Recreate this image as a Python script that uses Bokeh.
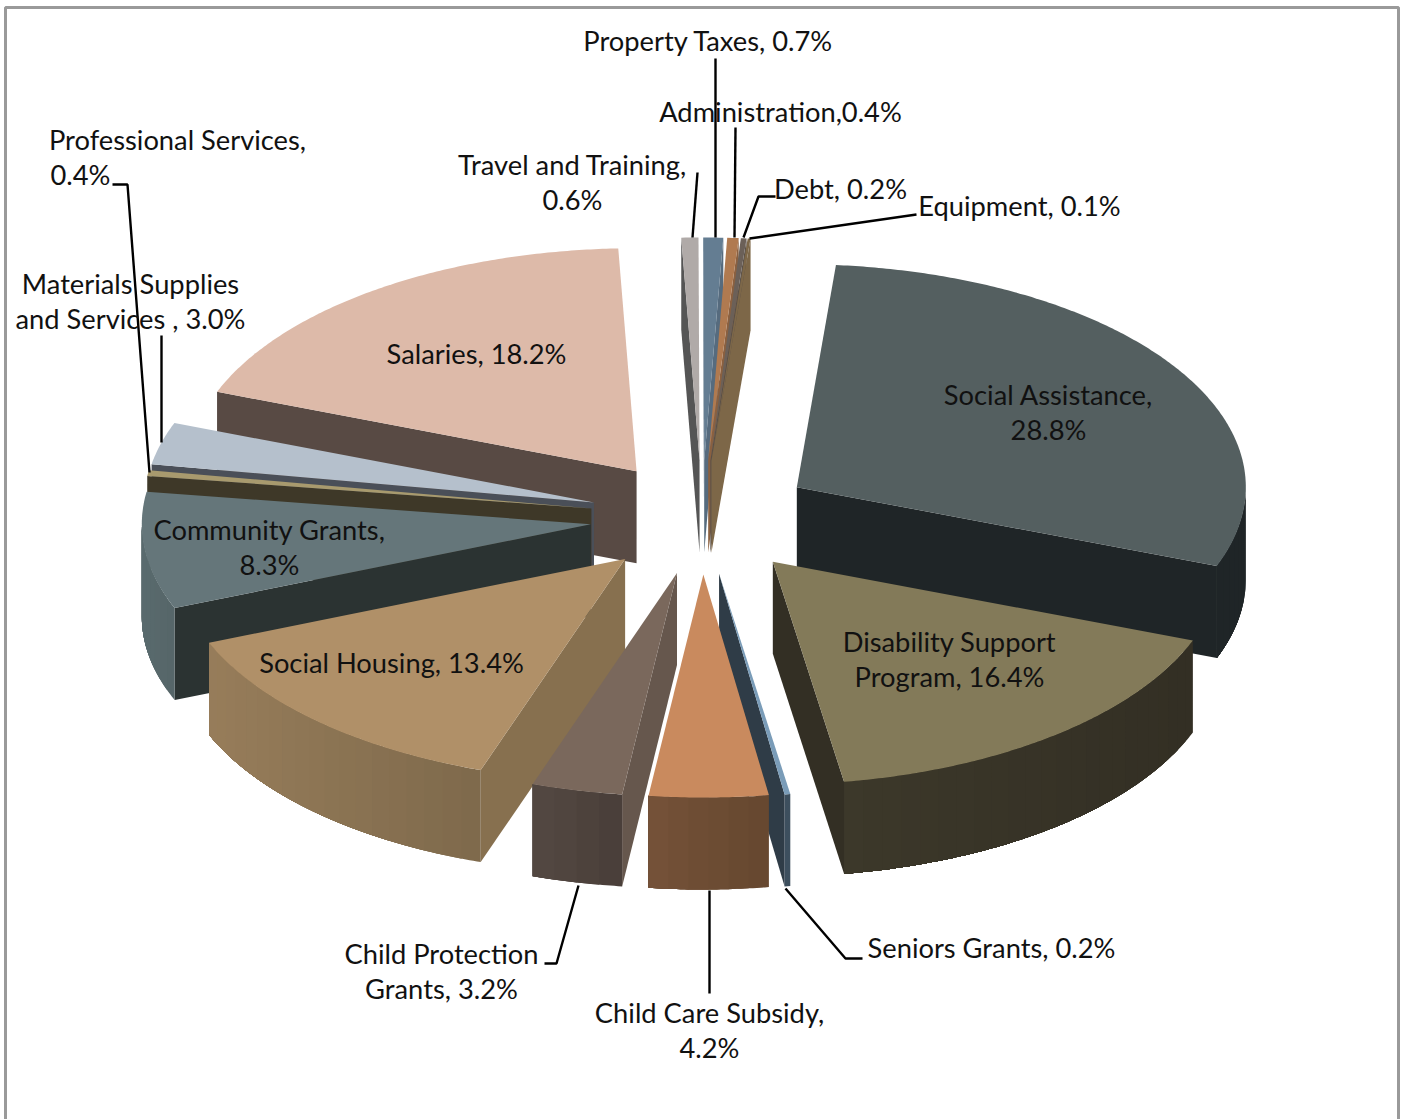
import math
from bokeh.plotting import figure
from bokeh.models import Range1d
from bokeh.core.properties import value
from bokeh.embed import file_html
from bokeh.resources import INLINE

# ---- data (clockwise from the first slice)
categories = ["Social Assistance", "Disability Support Program", "Seniors Grants",
              "Child Care Subsidy", "Child Protection Grants", "Social Housing",
              "Community Grants", "Professional Services", "Materials Supplies and Services",
              "Salaries", "Travel and Training", "Property Taxes", "Administration",
              "Debt", "Equipment"]
shares = [28.8, 16.4, 0.2, 4.2, 3.2, 13.4, 8.3, 0.4, 3.0, 18.2, 0.6, 0.7, 0.4, 0.2, 0.1]

# ---- styles: top face, cut face, wall at screen-left, wall at screen-right
top_colors = ["#545f60", "#837a59", "#7a9cb8", "#c98a5e", "#7a685c", "#b09068", "#65767a",
              "#a89a6e", "#b5c0cc", "#ddbaa9", "#b0aaa8", "#647d92", "#b07a50", "#6b6058", "#7d6748"]
cut_colors = ["#1f2527", "#332f24", "#2f3c47", "#6b4c33", "#66574d", "#87704f", "#2b3332",
              "#3e3828", "#4a4f58", "#584a44", "#555555", "#566b7e", "#8a6040", "#5a5048", "#7d6748"]
wall_left = ["#1f2527", "#3c382a", "#3d4f5e", "#765339", "#554a43", "#977d5a", "#5a6b6e",
             "#3e3828", "#4a4f58", "#584a44", "#555555", "#566b7e", "#8a6040", "#5a5048", "#7d6748"]
wall_right = ["#1f2527", "#332f24", "#3d4f5e", "#674830", "#4a3f3a", "#7f6a4c", "#566669",
              "#3e3828", "#4a4f58", "#584a44", "#555555", "#566b7e", "#8a6040", "#5a5048", "#7d6748"]

# ---- label layout: (text, centre x, centre y)
labels = [
    ("Property Taxes, 0.7%", 708, 39.5), ("Administration,0.4%", 780, 110.5),
    ("Travel and Training,", 572, 163.5), ("0.6%", 572, 198.5),
    ("Debt, 0.2%", 840, 187.5), ("Equipment, 0.1%", 1019, 204.5),
    ("Professional Services,", 177, 138.5), ("0.4%", 80, 173.5),
    ("Materials Supplies", 130, 282.5), ("and Services , 3.0%", 130, 317.5),
    ("Salaries, 18.2%", 476, 352.5),
    ("Social Assistance,", 1048, 393.5), ("28.8%", 1048, 428.5),
    ("Community Grants,", 269, 528.5), ("8.3%", 269, 563.5),
    ("Disability Support", 949, 640.5), ("Program, 16.4%", 949, 675.5),
    ("Social Housing, 13.4%", 391, 661.5),
    ("Child Protection", 441, 952.5), ("Grants, 3.2%", 441, 987.5),
    ("Child Care Subsidy,", 709, 1011.5), ("4.2%", 709, 1046.5),
    ("Seniors Grants, 0.2%", 991, 946.5),
]
leaders = [
    ([715, 715], [58, 237]), ([735, 734], [127, 237]), ([697, 692], [172, 237]),
    ([775, 758, 743], [196, 196, 237]), ([916, 749], [214, 238]),
    ([112, 127, 149], [184, 184, 472]), ([161, 161], [335, 442]),
    ([544, 556, 578], [963, 963, 885]), ([709, 709], [890, 993]),
    ([785, 845, 862], [888, 958, 958]),
]

# ---- pie geometry
CX, CY = 701.5, 517
RX, RY = 449, 223
EX, EY = 112, 57
DEPTH = 92
START = 5.0
SCALE = 360.0 / sum(shares)


def mix(a, b, t):
    ca = [int(a[i:i + 2], 16) for i in (1, 3, 5)]
    cb = [int(b[i:i + 2], 16) for i in (1, 3, 5)]
    return "#%02x%02x%02x" % tuple(round(u + (v - u) * t) for u, v in zip(ca, cb))


slices = []
angle = START
for i, share in enumerate(shares):
    a0, a1 = angle, angle + share * SCALE
    angle = a1
    mid = math.radians((a0 + a1) / 2)
    slices.append(dict(i=i, a0=a0, a1=a1,
                       ax=CX + EX * math.sin(mid), ay=CY - EY * math.cos(mid)))

xs, ys, colors = [], [], []


def add(px, py, c):
    xs.append(px)
    ys.append(py)
    colors.append(c)


for s in sorted(slices, key=lambda q: q["ay"]):
    i, a0, a1, ax, ay = s["i"], s["a0"], s["a1"], s["ax"], s["ay"]

    def rim(a):
        r = math.radians(a)
        return ax + RX * math.sin(r), ay - RY * math.cos(r)

    for a, visible in ((a0, math.sin(math.radians(a0)) < 0), (a1, math.sin(math.radians(a1)) > 0)):
        if visible:
            rx, ry = rim(a)
            add([ax, rx, rx, ax], [ay, ry, ry + DEPTH, ay + DEPTH], cut_colors[i])

    lo, hi = max(a0, 90.0), min(a1, 270.0)
    if hi > lo:
        # wall bands painted over each other, so that no seams show between them
        n = max(1, int((hi - lo) / 2.5))
        xl, xr = min(rim(lo)[0], rim(hi)[0]), max(rim(lo)[0], rim(hi)[0])
        for k in range(n):
            b0 = lo + (hi - lo) * k / n
            m = max(2, int((hi - b0) * 2))
            arc = [rim(b0 + (hi - b0) * j / m) for j in range(m + 1)]
            t = (rim(b0)[0] - xl) / max(1.0, xr - xl)
            add([q[0] for q in arc] + [q[0] for q in reversed(arc)],
                [q[1] for q in arc] + [q[1] + DEPTH for q in reversed(arc)],
                mix(wall_left[i], wall_right[i], t))

    n = max(2, int((a1 - a0) * 2))
    arc = [rim(a0 + (a1 - a0) * k / n) for k in range(n + 1)]
    add([ax] + [q[0] for q in arc], [ay] + [q[1] for q in arc], top_colors[i])

p = figure(width=1404, height=1119, x_range=Range1d(0, 1404), y_range=Range1d(1119, 0),
           x_axis_type=None, y_axis_type=None, toolbar_location=None, output_backend="svg",
           min_border=0, outline_line_color=None, background_fill_color="white",
           border_fill_color="white")
p.grid.visible = False

p.line([5, 5, 1398, 1398], [1119, 7, 7, 1119], line_color="#9a9a9a", line_width=3)
p.patches(xs, ys, fill_color=colors, line_color=None)
p.multi_line([l[0] for l in leaders], [l[1] for l in leaders], line_color="black", line_width=2.4)

p.text([l[1] for l in labels], [l[2] for l in labels], text=[l[0] for l in labels],
       text_font=value("Lato"), text_font_size="27.3px", text_color="#111111",
       text_align="center", text_baseline="middle")

open("out.html", "w").write(file_html(p, INLINE))
